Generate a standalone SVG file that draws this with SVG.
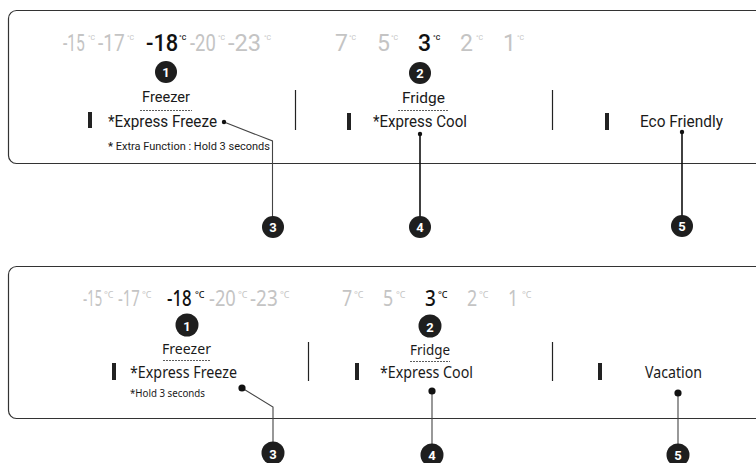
<svg xmlns="http://www.w3.org/2000/svg" width="756" height="463" viewBox="0 0 756 463">
<style>
.panel{fill:none;stroke:#333;stroke-width:1.2}
.div{stroke:#222;stroke-width:1.2}
.bar{fill:#222}
.t{font-family:Roboto,"Liberation Sans",sans-serif;fill:#1a1a1a}
.b{font-family:"Noto Sans","Liberation Sans",sans-serif;fill:#1a1a1a}
.g{fill:#c4c4c4}
.k{fill:#111;font-weight:500}
.big{font-size:23px}
.big2{font-size:21px}
.sup{font-size:7px}
.sup2{font-size:9px}
.num{font-family:Roboto,"Liberation Sans",sans-serif;font-size:13px;font-weight:bold;fill:#fff;text-anchor:middle}
.circ{fill:#1e1e1e}
.dot{stroke:#333;stroke-width:0.8;stroke-dasharray:2 1;fill:none}
.con{fill:none;stroke:#111;stroke-width:1.6}
.con2{fill:none;stroke:#444;stroke-width:1.1}
</style>
<rect class="panel" x="8.5" y="10.5" width="780" height="153" rx="8"/>
<rect class="panel" x="8.5" y="266.5" width="780" height="152" rx="8"/>

<g id="top-freezer-temps" class="t">
<text class="g big" transform="translate(63 51) scale(0.68 1)">-15</text><text class="g sup" x="88" y="40">°C</text>
<text class="g big" transform="translate(98 51) scale(0.83 1)">-17</text><text class="g sup" x="127" y="40">°C</text>
<text class="k big" transform="translate(146 51) scale(0.95 1)">-18</text><text class="k sup" x="179" y="40">°C</text>
<text class="g big" transform="translate(190 51) scale(0.8 1)">-20</text><text class="g sup" x="218" y="40">°C</text>
<text class="g big" transform="translate(228 51) scale(1.03 1)">-23</text><text class="g sup" x="264" y="40">°C</text>
</g>
<g id="top-fridge-temps" class="t">
<text class="g big" x="335" y="51">7</text><text class="g sup" x="349" y="40">°C</text>
<text class="g big" x="377" y="51">5</text><text class="g sup" x="391" y="40">°C</text>
<text class="k big" x="418" y="51">3</text><text class="k sup" x="433" y="40">°C</text>
<text class="g big" x="460" y="51">2</text><text class="g sup" x="476" y="40">°C</text>
<text class="g big" x="503" y="51">1</text><text class="g sup" x="517" y="40">°C</text>
</g>

<g id="top-freezer" class="t">
<text x="142" y="102" font-size="15" textLength="48" lengthAdjust="spacingAndGlyphs">Freezer</text>
<line class="dot" x1="140" y1="110.5" x2="192" y2="110.5"/>
<rect class="bar" x="88" y="112" width="4" height="16"/>
<text x="108" y="127" font-size="17" textLength="109" lengthAdjust="spacingAndGlyphs">*Express Freeze</text>
<text x="108" y="150" font-size="10.5" textLength="162" lengthAdjust="spacingAndGlyphs"><tspan font-weight="bold">*</tspan> Extra Function : Hold 3 seconds</text>
</g>
<g id="top-fridge" class="t">
<text x="402" y="103" font-size="15" textLength="43" lengthAdjust="spacingAndGlyphs">Fridge</text>
<line class="dot" x1="398" y1="110.5" x2="448" y2="110.5"/>
<rect class="bar" x="347" y="113" width="4" height="17"/>
<text x="373" y="127" font-size="17" textLength="94" lengthAdjust="spacingAndGlyphs">*Express Cool</text>
</g>
<g id="top-eco" class="t">
<rect class="bar" x="605" y="113" width="4" height="17"/>
<text x="640" y="127" font-size="17" textLength="83" lengthAdjust="spacingAndGlyphs">Eco Friendly</text>
</g>
<g id="top-dividers">
<line class="div" x1="295.5" y1="90" x2="295.5" y2="130"/>
<line class="div" x1="552.5" y1="90" x2="552.5" y2="130"/>
</g>

<g id="bottom-freezer-temps" class="b">
<text class="g big2" transform="translate(83 306) scale(0.62 1)">-15</text><text class="g sup2" x="104" y="298">°C</text>
<text class="g big2" transform="translate(118 306) scale(0.71 1)">-17</text><text class="g sup2" x="142" y="298">°C</text>
<text class="k big2" font-weight="600" transform="translate(167 306) scale(0.8 1)">-18</text><text class="k sup2" x="195" y="298">°C</text>
<text class="g big2" transform="translate(209 306) scale(0.87 1)">-20</text><text class="g sup2" x="238" y="298">°C</text>
<text class="g big2" transform="translate(250 306) scale(0.9 1)">-23</text><text class="g sup2" x="280" y="298">°C</text>
</g>
<g id="bottom-fridge-temps" class="b">
<text class="g big2" transform="translate(342 306) scale(0.85 1)">7</text><text class="g sup2" x="354" y="298">°C</text>
<text class="g big2" transform="translate(383 306) scale(0.85 1)">5</text><text class="g sup2" x="396" y="298">°C</text>
<text class="k big2" font-weight="600" transform="translate(425 306) scale(0.9 1)">3</text><text class="k sup2" x="438" y="298">°C</text>
<text class="g big2" transform="translate(467 306) scale(0.85 1)">2</text><text class="g sup2" x="479" y="298">°C</text>
<text class="g big2" transform="translate(508 306) scale(0.85 1)">1</text><text class="g sup2" x="522" y="298">°C</text>
</g>

<g id="bottom-freezer" class="b">
<text x="162" y="354" font-size="15" textLength="49" lengthAdjust="spacingAndGlyphs">Freezer</text>
<line class="dot" x1="163" y1="360.5" x2="210" y2="360.5"/>
<rect class="bar" x="112" y="363" width="4" height="17"/>
<text x="130" y="378" font-size="16" textLength="107" lengthAdjust="spacingAndGlyphs">*Express Freeze</text>
<text x="130" y="397" font-size="10" textLength="75" lengthAdjust="spacingAndGlyphs">*Hold 3 seconds</text>
</g>
<g id="bottom-fridge" class="b">
<text x="410" y="355" font-size="15" textLength="40" lengthAdjust="spacingAndGlyphs">Fridge</text>
<line class="dot" x1="410" y1="361.5" x2="450" y2="361.5"/>
<rect class="bar" x="355" y="363" width="4" height="17"/>
<text x="380" y="378" font-size="16" textLength="93" lengthAdjust="spacingAndGlyphs">*Express Cool</text>
</g>
<g id="bottom-vacation" class="b">
<rect class="bar" x="598" y="363" width="4" height="17"/>
<text x="645" y="378" font-size="16" textLength="57" lengthAdjust="spacingAndGlyphs">Vacation</text>
</g>
<g id="bottom-dividers">
<line class="div" x1="308.5" y1="342" x2="308.5" y2="381"/>
<line class="div" x1="552.5" y1="342" x2="552.5" y2="381"/>
</g>

<g id="connectors">
<polyline class="con2" points="224,122 272.5,141 272.5,227"/>
<line class="con" x1="420" y1="134" x2="420" y2="227"/>
<line class="con" x1="682" y1="132" x2="682" y2="227"/>
<polyline class="con2" points="242,388 273,407 273,453"/>
<line class="con2" x1="432" y1="391" x2="432" y2="455"/>
<line class="con2" x1="678" y1="393" x2="678" y2="455"/>
<circle cx="224" cy="122" r="2.2" fill="#111"/>
<circle cx="420" cy="134" r="2.2" fill="#111"/>
<circle cx="682" cy="132" r="2.2" fill="#111"/>
<circle cx="242" cy="388" r="3.6" fill="#111"/>
<circle cx="432" cy="391" r="3.6" fill="#111"/>
<circle cx="678" cy="393" r="3.6" fill="#111"/>
</g>

<g id="badge-top-1"><circle class="circ" cx="166" cy="72" r="11"/><text class="num" x="166" y="77">1</text></g>
<g id="badge-top-2"><circle class="circ" cx="420" cy="73" r="11"/><text class="num" x="420" y="78">2</text></g>
<g id="badge-top-3"><circle class="circ" cx="273" cy="227" r="11"/><text class="num" x="273" y="232">3</text></g>
<g id="badge-top-4"><circle class="circ" cx="420" cy="227" r="11"/><text class="num" x="420" y="232">4</text></g>
<g id="badge-top-5"><circle class="circ" cx="682" cy="226" r="11"/><text class="num" x="682" y="231">5</text></g>
<g id="badge-bottom-1"><circle class="circ" cx="187" cy="325" r="11.5"/><text class="num" x="187" y="331" font-size="16">1</text></g>
<g id="badge-bottom-2"><circle class="circ" cx="430" cy="326" r="11.5"/><text class="num" x="430" y="332" font-size="16">2</text></g>
<g id="badge-bottom-3"><circle class="circ" cx="273" cy="453" r="11.5"/><text class="num" x="273" y="459" font-size="16">3</text></g>
<g id="badge-bottom-4"><circle class="circ" cx="432" cy="455" r="11.5"/><text class="num" x="432" y="460" font-size="15">4</text></g>
<g id="badge-bottom-5"><circle class="circ" cx="678" cy="455" r="11.5"/><text class="num" x="678" y="460" font-size="15">5</text></g>
</svg>
